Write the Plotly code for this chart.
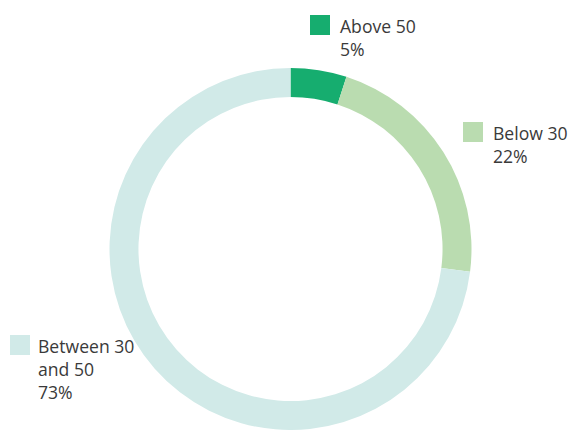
import plotly.graph_objects as go

labels = ["Above 50", "Below 30", "Between 30<br>and 50"]
values = [5, 22, 73]
colors = ["#16ad6f", "#badcb0", "#d1eae8"]

W, H = 571, 430

def px(x):
    return x / W

def py(y):
    return 1 - y / H

fig = go.Figure()
fig.add_trace(go.Pie(
    labels=labels,
    values=values,
    marker=dict(colors=colors, line=dict(width=0)),
    hole=0.84,
    sort=False,
    direction="clockwise",
    rotation=0,
    textinfo="none",
    hoverinfo="label+percent",
    showlegend=False,
    domain=dict(x=[px(109.5), px(471.5)], y=[0, py(68)]),
))

# legend-like labels: (square x, square y, text x, text top)
label_pos = [(310, 15, 338, 12), (463, 122, 491, 119), (10, 335, 36, 332)]
font = dict(family="Open Sans, Noto Sans, sans-serif", size=17.6, color="#3a3a3a")
for (sx, sy, tx, ty), lab, val, col in zip(label_pos, labels, values, colors):
    fig.add_shape(type="rect", xref="paper", yref="paper",
                  x0=px(sx), x1=px(sx + 20), y0=py(sy), y1=py(sy + 20),
                  fillcolor=col, line=dict(width=0))
    fig.add_annotation(xref="paper", yref="paper", x=px(tx), y=py(ty),
                       xanchor="left", yanchor="top", align="left",
                       showarrow=False, text=f"{lab}<br>{val}%", font=font)

fig.update_layout(
    width=W, height=H,
    margin=dict(l=0, r=0, t=0, b=0),
    paper_bgcolor="white",
    plot_bgcolor="white",
)
fig.write_html("out.html")
